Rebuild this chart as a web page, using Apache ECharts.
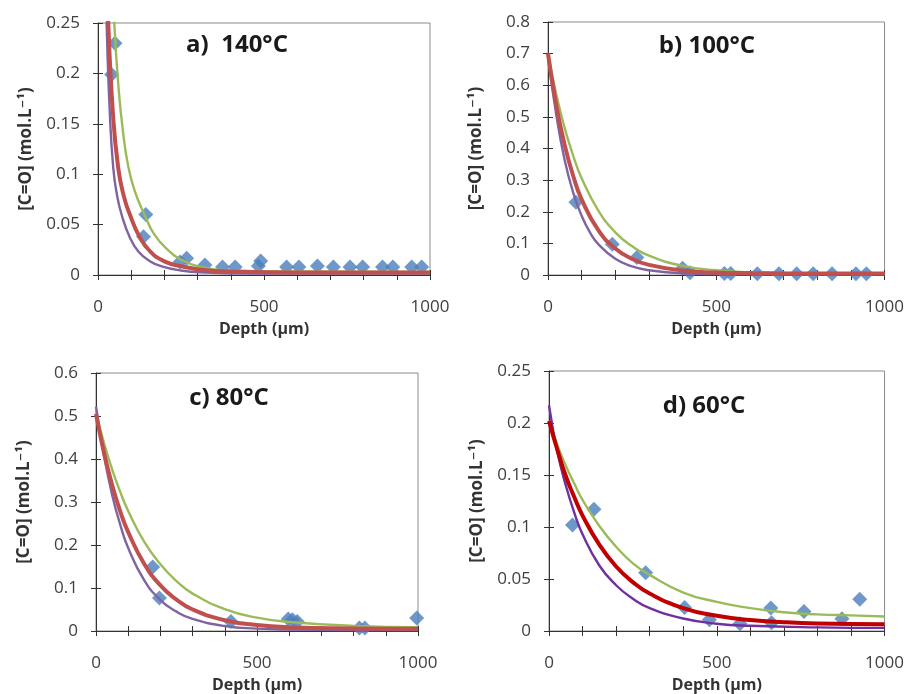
<!DOCTYPE html>
<html>
<head>
<meta charset="utf-8">
<script src="https://cdn.jsdelivr.net/npm/echarts@6/dist/echarts.min.js"></script>
<style>
html,body{margin:0;padding:0;background:#fff;}
#chart{width:907px;height:694px;}
</style>
</head>
<body>
<div id="chart"></div>
<script>
// ---------- data ----------
const xTicks = [0, 500, 1000];
const panelTitles = ['a)  140°C', 'b) 100°C', 'c) 80°C', 'd) 60°C'];
const yMaxes = [0.25, 0.8, 0.6, 0.25];
const yIntervals = [0.05, 0.1, 0.1, 0.05];

const a_points = [[41,0.199],[51,0.230],[137,0.038],[144,0.060],[247,0.013],[267,0.0165],[322,0.010],[375,0.008],[413,0.008],[483,0.009],[490,0.014],[568,0.008],[605,0.008],[661,0.009],[709,0.008],[759,0.008],[797,0.008],[857,0.008],[888,0.008],[945,0.008],[975,0.008]];
const a_green = [[38,0.34],[49,0.25],[62,0.185],[76,0.14],[91,0.108],[110,0.084],[140,0.06],[170,0.04],[212,0.0245],[255,0.0145],[302,0.0086],[400,0.0045],[550,0.0035],[1000,0.003]];
const a_red = [[22,0.36],[31,0.25],[45,0.16],[61,0.106],[78,0.078],[96,0.06],[125,0.038],[157,0.0235],[200,0.0135],[252,0.0086],[320,0.005],[400,0.0035],[600,0.0025],[1000,0.0025]];
const a_purple = [[18,0.36],[26,0.25],[35,0.165],[46,0.106],[58,0.078],[71,0.06],[95,0.038],[121,0.0235],[155,0.014],[192,0.0086],[250,0.0045],[320,0.0025],[450,0.0015],[1000,0.0015]];

const b_points = [[83,0.23],[191,0.097],[264,0.055],[400,0.021],[422,0.007],[524,0.005],[543,0.005],[622,0.004],[686,0.004],[739,0.004],[788,0.004],[844,0.004],[915,0.004],[946,0.004]];
const b_green = [[0,0.70],[25,0.569],[50,0.463],[75,0.377],[100,0.306],[150,0.203],[200,0.135],[250,0.091],[300,0.061],[400,0.029],[500,0.015],[600,0.0087],[800,0.005],[1000,0.004]];
const b_red = [[0,0.70],[25,0.535],[50,0.409],[75,0.313],[100,0.239],[150,0.141],[200,0.084],[250,0.051],[300,0.032],[400,0.014],[500,0.008],[600,0.006],[800,0.005],[1000,0.005]];
const b_purple = [[0,0.69],[25,0.504],[50,0.361],[75,0.26],[100,0.187],[125,0.134],[150,0.097],[200,0.051],[250,0.027],[300,0.015],[400,0.0054],[500,0.003],[700,0.002],[1000,0.002]];

const c_points = [[176,0.149],[197,0.077],[419,0.022],[597,0.028],[610,0.026],[625,0.022],[818,0.007],[835,0.007],[996,0.030]];
const c_green = [[0,0.508],[25,0.437],[50,0.376],[75,0.324],[100,0.279],[150,0.207],[200,0.155],[250,0.116],[300,0.087],[400,0.051],[500,0.031],[600,0.021],[800,0.012],[1000,0.009]];
const c_red = [[0,0.505],[25,0.414],[50,0.340],[75,0.279],[100,0.230],[150,0.156],[200,0.106],[250,0.073],[300,0.050],[400,0.025],[500,0.014],[600,0.009],[800,0.006],[1000,0.005]];
const c_purple = [[0,0.522],[25,0.407],[50,0.317],[75,0.248],[100,0.193],[150,0.118],[200,0.072],[250,0.045],[300,0.028],[400,0.0115],[500,0.0055],[600,0.0033],[800,0.0022],[1000,0.002]];

const d_points = [[70,0.102],[134,0.117],[288,0.056],[404,0.0226],[478,0.0108],[569,0.007],[661,0.022],[663,0.008],[760,0.0188],[873,0.0118],[926,0.0305]];
const d_green = [[0,0.202],[25,0.179],[50,0.159],[75,0.142],[100,0.126],[150,0.101],[200,0.081],[250,0.065],[300,0.054],[400,0.037],[500,0.028],[600,0.022],[700,0.018],[800,0.016],[900,0.015],[1000,0.014]];
const d_red = [[0,0.202],[25,0.174],[50,0.149],[75,0.129],[100,0.111],[150,0.083],[200,0.062],[250,0.047],[300,0.036],[400,0.022],[500,0.0146],[600,0.0106],[700,0.0085],[800,0.0073],[1000,0.0064]];
const d_purple = [[0,0.217],[25,0.172],[50,0.14],[75,0.114],[100,0.093],[150,0.063],[200,0.044],[250,0.031],[300,0.022],[400,0.012],[500,0.007],[600,0.005],[800,0.0035],[1000,0.003]];

// ---------- layout / style ----------
const FONT = "'Open Sans', 'DejaVu Sans', sans-serif";
const grids = [
  {left: 98, top: 23, width: 332, height: 252},
  {left: 548, top: 22, width: 338, height: 253},
  {left: 96, top: 373, width: 322, height: 260},
  {left: 549, top: 371, width: 337, height: 262}
];
const titlePos = [[237, 45], [707, 46], [229, 398], [704, 406]];
const panels = [
  {pts: a_points, green: a_green, red: a_red, purple: a_purple, redC: '#C0504D', purC: '#8064A2'},
  {pts: b_points, green: b_green, red: b_red, purple: b_purple, redC: '#C0504D', purC: '#8064A2'},
  {pts: c_points, green: c_green, red: c_red, purple: c_purple, redC: '#C0504D', purC: '#8064A2'},
  {pts: d_points, green: d_green, red: d_red, purple: d_purple, redC: '#C00000', purC: '#7030A0'}
];

const axisColor = '#333';
const xAxes = [], yAxes = [], series = [], graphics = [];
panels.forEach((p, i) => {
  const base = {type: 'value', gridIndex: i, min: 0, max: 1000, interval: 100, position: 'bottom',
    splitLine: {show: false}, axisLine: {lineStyle: {color: axisColor, width: 1}}};
  xAxes.push(Object.assign({}, base, {
    axisTick: {show: true, inside: false, length: 5, lineStyle: {color: axisColor}},
    axisLabel: {margin: 24, fontSize: 17, fontFamily: FONT, color: '#404040',
      formatter: v => (xTicks.indexOf(v) >= 0 ? String(v) : '')},
    name: 'Depth (μm)', nameLocation: 'middle', nameGap: 46,
    nameTextStyle: {fontSize: 16, fontWeight: 'bold', fontFamily: FONT, color: '#333'}
  }));
  xAxes.push(Object.assign({}, base, {
    axisLine: {show: false},
    axisTick: {show: true, inside: true, length: 5, lineStyle: {color: axisColor}},
    axisLabel: {show: false}
  }));
  const ybase = {type: 'value', gridIndex: i, min: 0, max: yMaxes[i], interval: yIntervals[i], position: 'left',
    splitLine: {show: false}, axisLine: {lineStyle: {color: axisColor, width: 1}}};
  yAxes.push(Object.assign({}, ybase, {
    axisTick: {show: true, inside: false, length: 5, lineStyle: {color: axisColor}},
    axisLabel: {margin: 18, fontSize: 17, fontFamily: FONT, color: '#404040'},
    name: '[C=O] (mol.L⁻¹)', nameLocation: 'middle', nameGap: 63, nameRotate: 90,
    nameTextStyle: {fontSize: 17, fontWeight: 'bold', fontFamily: FONT, color: '#333'}
  }));
  yAxes.push(Object.assign({}, ybase, {
    axisLine: {show: false},
    axisTick: {show: true, inside: true, length: 5, lineStyle: {color: axisColor}},
    axisLabel: {show: false}
  }));
  series.push({type: 'scatter', xAxisIndex: 2 * i, yAxisIndex: 2 * i, data: p.pts,
    symbol: 'diamond', symbolSize: [15, 15], itemStyle: {color: '#4A7EBB'}, z: 2});
  const lineBase = {type: 'line', xAxisIndex: 2 * i, yAxisIndex: 2 * i, showSymbol: false,
    smooth: 0.5, clip: true, z: 3};
  series.push(Object.assign({}, lineBase, {data: p.green, lineStyle: {color: '#9BBB59', width: 2.4}}));
  series.push(Object.assign({}, lineBase, {data: p.purple, lineStyle: {color: p.purC, width: 2.4}}));
  series.push(Object.assign({}, lineBase, {data: p.red, lineStyle: {color: p.redC, width: 4}, z: 4}));
  graphics.push({type: 'text', x: titlePos[i][0], y: titlePos[i][1], z: 10,
    style: {text: panelTitles[i], fontSize: 24, fontWeight: 'bold', fontFamily: FONT, fill: '#1a1a1a',
      align: 'center', verticalAlign: 'middle'}});
});

const chart = echarts.init(document.getElementById('chart'), null, {renderer: 'canvas'});
chart.setOption({
  animation: false,
  backgroundColor: '#fff',
  grid: grids.map(g => Object.assign({show: true, borderColor: '#8a8a8a', borderWidth: 1, backgroundColor: 'transparent'}, g)),
  xAxis: xAxes,
  yAxis: yAxes,
  series: series,
  graphic: graphics
});
</script>
</body>
</html>
